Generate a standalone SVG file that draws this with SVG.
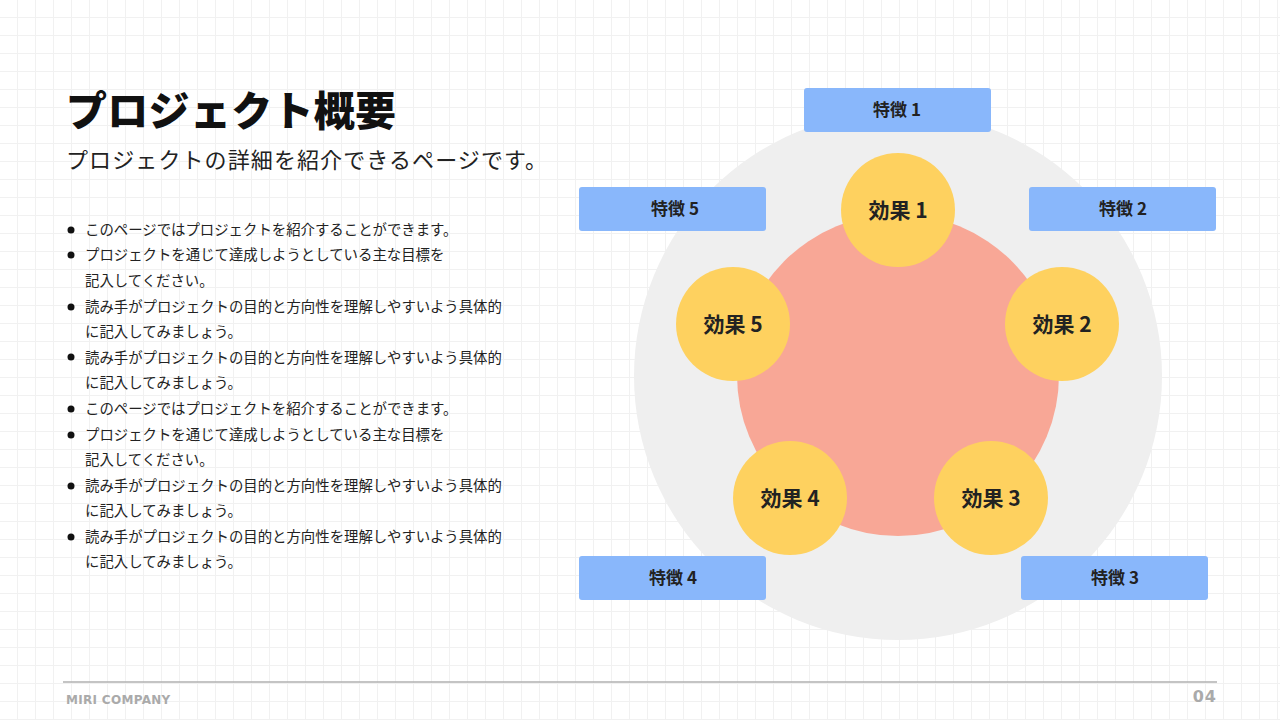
<svg xmlns="http://www.w3.org/2000/svg" width="1280" height="720" viewBox="0 0 1280 720">
<defs>
<pattern id="grid" width="18" height="18" patternUnits="userSpaceOnUse">
<path d="M18 0V18H0" fill="none" stroke="#f1f1f1" stroke-width="2"/>
</pattern>
<style>
.t{font-family:"Noto Sans CJK JP","Noto Sans",sans-serif}
.b{font-size:14.4px;fill:#222}
.tag rect{fill:#89b7fb}
.tag text{font-family:"Noto Sans CJK JP",sans-serif;font-size:17px;font-weight:bold;fill:#222;text-anchor:middle}
.eff circle{fill:#fed15f}
.eff text{font-family:"Noto Sans CJK JP",sans-serif;font-size:21px;font-weight:bold;fill:#222;text-anchor:middle}
</style>
</defs>
<rect width="1280" height="720" fill="#fff"/>
<rect width="1280" height="720" fill="url(#grid)"/>
<text class="t" x="66" y="126" font-size="41" font-weight="900" fill="#111" letter-spacing="0.3">プロジェクト概要</text>
<text class="t" x="66" y="168" font-size="22" fill="#222" letter-spacing="1.1">プロジェクトの詳細を紹介できるページです。</text>
<g class="t b">
<g fill="#111"><circle cx="71" cy="230" r="3.5"/><circle cx="71" cy="255" r="3.5"/><circle cx="71" cy="307" r="3.5"/><circle cx="71" cy="357" r="3.5"/><circle cx="71" cy="409" r="3.5"/><circle cx="71" cy="435" r="3.5"/><circle cx="71" cy="486" r="3.5"/><circle cx="71" cy="537" r="3.5"/></g>
<text x="85" y="235">このページではプロジェクトを紹介することができます。</text>
<text x="85" y="260">プロジェクトを通じて達成しようとしている主な目標を</text>
<text x="85" y="286">記入してください。</text>
<text x="85" y="312">読み手がプロジェクトの目的と方向性を理解しやすいよう具体的</text>
<text x="85" y="337">に記入してみましょう。</text>
<text x="85" y="363">読み手がプロジェクトの目的と方向性を理解しやすいよう具体的</text>
<text x="85" y="388">に記入してみましょう。</text>
<text x="85" y="414">このページではプロジェクトを紹介することができます。</text>
<text x="85" y="440">プロジェクトを通じて達成しようとしている主な目標を</text>
<text x="85" y="465">記入してください。</text>
<text x="85" y="491">読み手がプロジェクトの目的と方向性を理解しやすいよう具体的</text>
<text x="85" y="516">に記入してみましょう。</text>
<text x="85" y="542">読み手がプロジェクトの目的と方向性を理解しやすいよう具体的</text>
<text x="85" y="567">に記入してみましょう。</text>
</g>
<circle cx="898" cy="376" r="264" fill="#efefef"/>
<circle cx="898" cy="375" r="161" fill="#f8a796"/>
<g id="connectors"/>
<g id="e1" class="eff"><circle cx="898" cy="210" r="57"/><text x="898" y="218">効果 1</text></g>
<g id="e2" class="eff"><circle cx="1062" cy="324" r="57"/><text x="1062" y="332">効果 2</text></g>
<g id="e3" class="eff"><circle cx="991" cy="498" r="57"/><text x="991" y="506">効果 3</text></g>
<g id="e4" class="eff"><circle cx="790" cy="498" r="57"/><text x="790" y="506">効果 4</text></g>
<g id="e5" class="eff"><circle cx="733" cy="324" r="57"/><text x="733" y="332">効果 5</text></g>
<g id="f1" class="tag"><rect x="804" y="88" width="187" height="44" rx="3"/><text x="897" y="116">特徴 1</text></g>
<g id="f2" class="tag"><rect x="1029" y="187" width="187" height="44" rx="3"/><text x="1123" y="215">特徴 2</text></g>
<g id="f3" class="tag"><rect x="1021" y="556" width="187" height="44" rx="3"/><text x="1115" y="584">特徴 3</text></g>
<g id="f4" class="tag"><rect x="579" y="556" width="187" height="44" rx="3"/><text x="673" y="584">特徴 4</text></g>
<g id="f5" class="tag"><rect x="579" y="187" width="187" height="44" rx="3"/><text x="675" y="215">特徴 5</text></g>
<line x1="63" y1="682" x2="1217" y2="682" stroke="#b0b0b0" stroke-width="1.5"/>
<text x="66" y="704" font-family="'DejaVu Sans',sans-serif" font-size="12" font-weight="bold" fill="#aaa" letter-spacing="0.3">MIRI COMPANY</text>
<text x="1217" y="702" text-anchor="end" font-family="'DejaVu Sans',sans-serif" font-size="16" font-weight="bold" fill="#aaa" letter-spacing="1">04</text>
</svg>
